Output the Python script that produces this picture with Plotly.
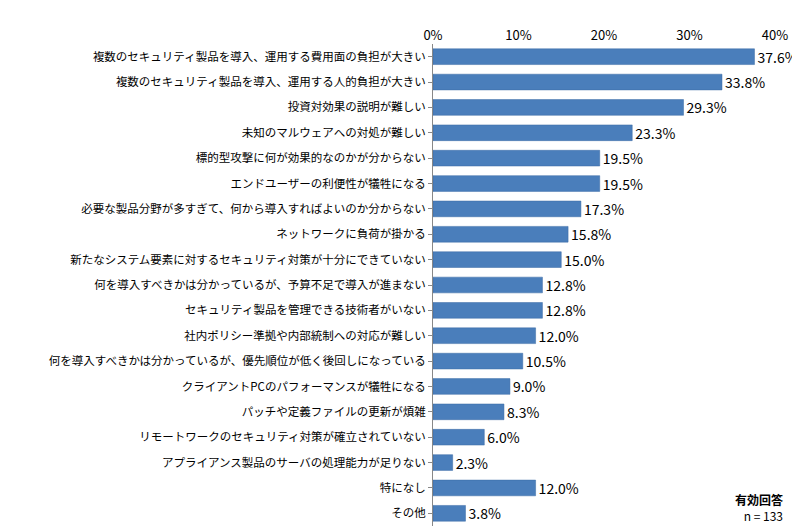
import plotly.graph_objects as go

categories = [
    "複数のセキュリティ製品を導入、運用する費用面の負担が大きい",
    "複数のセキュリティ製品を導入、運用する人的負担が大きい",
    "投資対効果の説明が難しい",
    "未知のマルウェアへの対処が難しい",
    "標的型攻撃に何が効果的なのかが分からない",
    "エンドユーザーの利便性が犠牲になる",
    "必要な製品分野が多すぎて、何から導入すればよいのか分からない",
    "ネットワークに負荷が掛かる",
    "新たなシステム要素に対するセキュリティ対策が十分にできていない",
    "何を導入すべきかは分かっているが、予算不足で導入が進まない",
    "セキュリティ製品を管理できる技術者がいない",
    "社内ポリシー準拠や内部統制への対応が難しい",
    "何を導入すべきかは分かっているが、優先順位が低く後回しになっている",
    "クライアントPCのパフォーマンスが犠牲になる",
    "パッチや定義ファイルの更新が煩雑",
    "リモートワークのセキュリティ対策が確立されていない",
    "アプライアンス製品のサーバの処理能力が足りない",
    "特になし",
    "その他",
]
values = [37.6, 33.8, 29.3, 23.3, 19.5, 19.5, 17.3, 15.8, 15.0, 12.8, 12.8, 12.0, 10.5, 9.0, 8.3, 6.0, 2.3, 12.0, 3.8]
tick_vals = [0, 10, 20, 30, 40]
tick_text = ["0%", "10%", "20%", "30%", "40%"]

fig = go.Figure(go.Bar(
    x=values, y=categories, orientation="h",
    marker=dict(color="#4a7ebb", line=dict(color="#3a6aa5", width=0.5)),
    width=0.62,
    text=[f"{v:.1f}%" for v in values], textposition="outside",
    textfont=dict(size=14, color="#000"), cliponaxis=False, constraintext="none",
))
fig.update_layout(
    width=800, height=530,
    margin=dict(l=425, r=33, t=36, b=12, autoexpand=False),
    plot_bgcolor="white", paper_bgcolor="white",
    font=dict(family="Noto Sans CJK JP", size=12, color="#000"),
    showlegend=False,
    xaxis=dict(range=[0, 40], side="top", tickvals=tick_vals, ticktext=tick_text,
               showgrid=False, zeroline=False, showline=False, tickfont=dict(size=13),
               automargin=False),
    yaxis=dict(autorange="reversed", showline=True, linecolor="#888", ticks="outside",
               ticklen=4, tickcolor="#888", tickfont=dict(size=11.5), automargin=False),
    annotations=[dict(x=1.03, y=0.0, xref="paper", yref="paper", xanchor="right", yanchor="bottom",
                      text="<b>有効回答</b><br>n = 133", showarrow=False, align="right",
                      font=dict(size=12))],
)
fig.write_html("out.html")
